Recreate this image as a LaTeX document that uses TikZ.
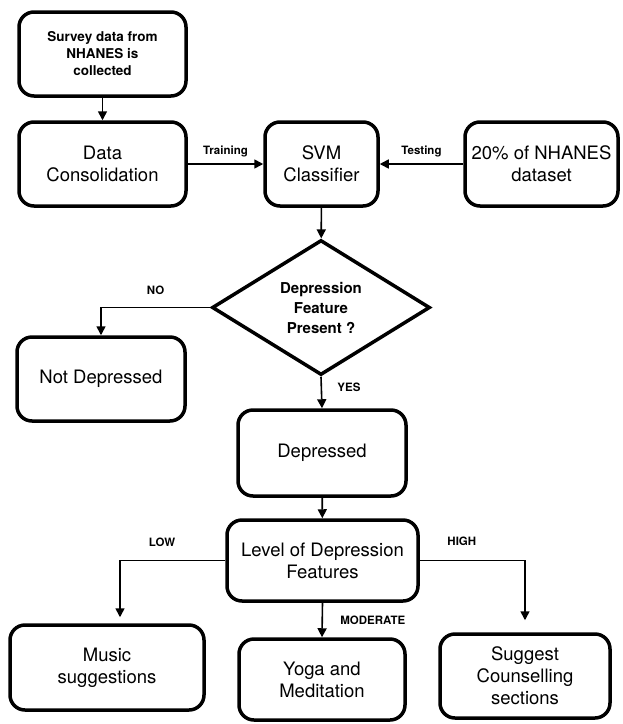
\documentclass[tikz,border=0pt]{standalone}
\usepackage{fontspec}
\setmainfont{TeX Gyre Heros}
\usetikzlibrary{shapes.geometric,arrows.meta}

\begin{document}
\begin{tikzpicture}[x=1pt,y=-1pt,
	box/.style={draw,line width=3.5pt,rounded corners=15pt,align=center,inner sep=0pt,font=\fontsize{18.5}{22}\selectfont},
	decide/.style={draw,diamond,aspect=1.6,line width=3.5pt,inner sep=0pt,align=center,font=\fontsize{15}{20}\selectfont\bfseries},
	flow/.style={line width=1.6pt,-{Triangle[length=9pt,width=9pt]}},
	tag/.style={font=\fontsize{11.5}{13}\selectfont\bfseries}]
	\useasboundingbox (0,0) rectangle (623,724);
	% input and training
	\node[box,minimum width=167pt,minimum height=84pt,font=\fontsize{13.5}{17}\selectfont\bfseries] (survey) at (102.5,54) {Survey data from\\NHANES is\\collected};
	\node[box,minimum width=167pt,minimum height=84pt] (cons) at (102.5,164) {Data\\Consolidation};
	\node[box,minimum width=113pt,minimum height=84pt] (svm) at (321.5,164) {SVM\\Classifier};
	\node[box,minimum width=153pt,minimum height=84pt] (test) at (541.5,164) {20\% of NHANES\\dataset};
	% decision
	\node[decide,minimum width=218pt,minimum height=135pt] (dia) at (321,307.5) {Depression\\Feature\\Present ?};
	\node[box,minimum width=168pt,minimum height=84pt] (notdep) at (101,379) {Not Depressed};
	\node[box,minimum width=168pt,minimum height=86pt] (dep) at (322,453) {Depressed};
	\node[box,minimum width=191pt,minimum height=81pt] (level) at (322.5,560.5) {Level of Depression\\Features};
	% suggestions
	\node[box,minimum width=194pt,minimum height=85pt] (music) at (107,667.5) {Music\\suggestions};
	\node[box,minimum width=166pt,minimum height=81pt] (yoga) at (322,679.5) {Yoga and\\Meditation};
	\node[box,minimum width=170pt,minimum height=84pt] (couns) at (525,676) {Suggest\\Counselling\\sections};

	\draw[flow] (survey) -- (cons);
	\draw[flow] (cons) -- node[tag,above=3pt]{Training} (svm);
	\draw[flow] (test) -- node[tag,above=3pt]{Testing} (svm);
	\draw[flow] (svm) -- (dia);
	\draw[flow] (dia.west) -| node[tag,pos=0.25,above=9pt]{NO} (notdep.north);
	\draw[flow] (dia.south) -- node[tag,pos=0.35,right=12pt]{YES} (dep.north);
	\draw[flow] (dep) -- (level);
	\draw[flow,shorten >=6pt] (level.west) -| node[tag,pos=0.3,above=10pt]{LOW} ([xshift=13pt]music.north);
	\draw[flow] (level.south) -- node[tag,right=14pt]{MODERATE} (yoga.north);
	\draw[flow,shorten >=12pt] (level.east) -| node[tag,pos=0.2,above=11pt]{HIGH} (couns.north);
\end{tikzpicture}
\end{document}
